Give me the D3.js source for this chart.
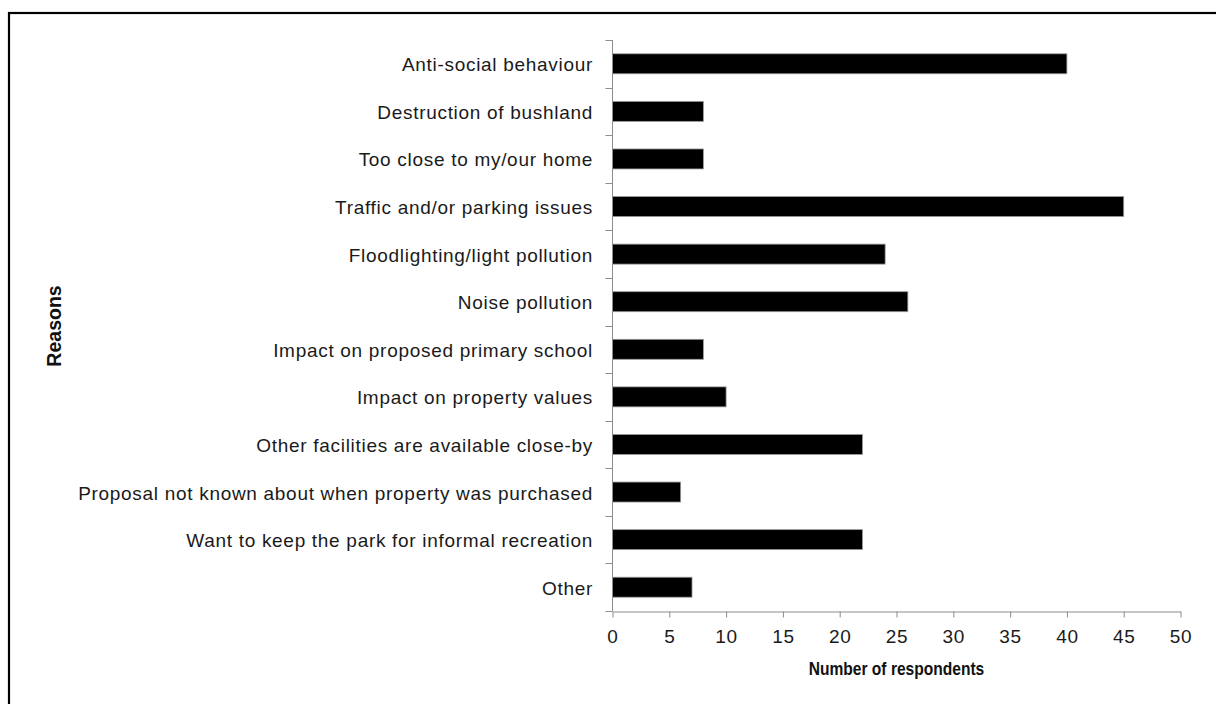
<!DOCTYPE html>
<html>
<head>
<meta charset="utf-8">
<script src="https://cdn.jsdelivr.net/npm/d3@7"></script>
<style>
  html, body { margin: 0; padding: 0; background: #fff; }
  svg { display: block; }
  .lbl { font-family: "Liberation Sans", Arial, sans-serif; font-size: 19px; fill: #1a1a1a; letter-spacing: 0.7px; }
  .ttl { font-family: "Liberation Sans", Arial, sans-serif; font-weight: bold; fill: #111; }
</style>
</head>
<body>
<script>
// Reasons given for objecting, and how many respondents gave each one
const reasons = [
  "Anti-social behaviour",
  "Destruction of bushland",
  "Too close to my/our home",
  "Traffic and/or parking issues",
  "Floodlighting/light pollution",
  "Noise pollution",
  "Impact on proposed primary school",
  "Impact on property values",
  "Other facilities are available close-by",
  "Proposal not known about when property was purchased",
  "Want to keep the park for informal recreation",
  "Other"
];
const respondents = [40, 8, 8, 45, 24, 26, 8, 10, 22, 6, 22, 7];
const xTicks = [0, 5, 10, 15, 20, 25, 30, 35, 40, 45, 50];

const W = 1216, H = 704;
const plot = { left: 612.5, right: 1180.5, top: 40, bottom: 611 };

const svg = d3.select("body").append("svg")
  .attr("width", W).attr("height", H);

// outer frame (only top and left edges fall inside the page)
svg.append("rect")
  .attr("x", 9).attr("y", 13)
  .attr("width", 1240).attr("height", 720)
  .attr("fill", "none").attr("stroke", "#000").attr("stroke-width", 2.2);

const x = d3.scaleLinear().domain([0, 50]).range([plot.left, plot.right]);
const y = d3.scaleBand().domain(reasons).range([plot.top, plot.bottom])
  .paddingInner(0.58).paddingOuter(0.29);

const axisColor = "#8c8c8c";

// bars
svg.append("g").selectAll("rect")
  .data(reasons.map((r, i) => ({ r, v: respondents[i] })))
  .join("rect")
  .attr("x", x(0))
  .attr("y", d => y(d.r))
  .attr("width", d => x(d.v) - x(0))
  .attr("height", y.bandwidth())
  .attr("fill", "#000")
  .attr("stroke", "#9a9a9a")
  .attr("stroke-width", 0.8);

// category axis: tick marks at band boundaries
const bounds = d3.range(reasons.length + 1).map(i => plot.top + i * (plot.bottom - plot.top) / reasons.length);
const yAxis = svg.append("g");
yAxis.append("line")
  .attr("x1", plot.left).attr("x2", plot.left)
  .attr("y1", plot.top).attr("y2", plot.bottom)
  .attr("stroke", axisColor).attr("stroke-width", 1);
yAxis.selectAll("line.tk").data(bounds).join("line").attr("class", "tk")
  .attr("x1", plot.left - 7).attr("x2", plot.left)
  .attr("y1", d => Math.round(d) + 0.5).attr("y2", d => Math.round(d) + 0.5)
  .attr("stroke", axisColor).attr("stroke-width", 1);
yAxis.selectAll("text").data(reasons).join("text").attr("class", "lbl")
  .attr("x", 593)
  .attr("y", d => y(d) + y.bandwidth() / 2 + 7.5)
  .attr("text-anchor", "end")
  .text(d => d);

// value axis
const xAxis = svg.append("g")
  .attr("transform", `translate(0,${plot.bottom + 0.5})`)
  .call(d3.axisBottom(x).tickValues(xTicks).tickSize(6).tickPadding(12).tickSizeOuter(0));
xAxis.select(".domain").attr("stroke", axisColor);
xAxis.selectAll(".tick line").attr("stroke", axisColor);
xAxis.selectAll(".tick text").attr("class", "lbl").attr("fill", null)
  .style("font-size", "19px").attr("dy", "0.7em");

// axis titles
svg.append("text").attr("class", "ttl")
  .attr("transform", `translate(${(plot.left + plot.right) / 2},675) scale(0.89,1)`)
  .attr("text-anchor", "middle")
  .style("font-size", "17.5px")
  .text("Number of respondents");
svg.append("text").attr("class", "ttl")
  .attr("transform", `translate(61,326) rotate(-90) scale(0.93,1)`)
  .attr("text-anchor", "middle")
  .style("font-size", "21px")
  .text("Reasons");
</script>
</body>
</html>
